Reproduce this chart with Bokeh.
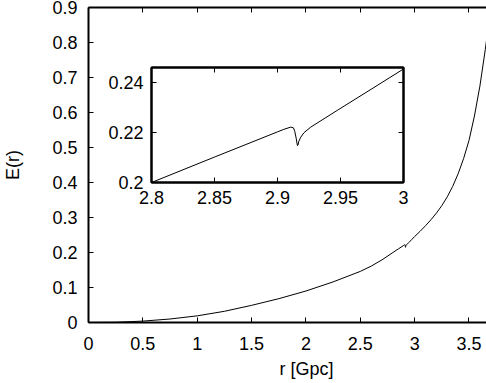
from bokeh.plotting import figure
from bokeh.models import Range1d, LinearAxis, FixedTicker, Title, GridBox
from bokeh.embed import file_html
from bokeh.resources import INLINE

# E(r)
r = [0.0, 0.25, 0.5, 0.75, 1.0, 1.25, 1.5, 1.75, 2.0, 2.25, 2.5, 2.6, 2.7,
     2.8, 2.85, 2.9, 2.905, 2.9105, 2.9127, 2.9137, 2.9148, 2.9158, 2.9163,
     2.9169, 2.9185, 2.9211, 2.9264, 2.9477, 2.975, 3.0, 3.05, 3.1, 3.15, 3.2,
     3.25, 3.3, 3.35, 3.4, 3.45, 3.5, 3.55, 3.6, 3.65, 3.7]
E = [0.0, 0.0005, 0.004, 0.010, 0.019, 0.032, 0.049, 0.068, 0.090, 0.116, 0.146, 0.161, 0.179,
     0.2, 0.2102, 0.2203, 0.2213, 0.2222, 0.2219, 0.2205, 0.2178, 0.2148, 0.2150,
     0.2165, 0.2182, 0.2200, 0.2222, 0.2290, 0.2376, 0.2455, 0.2605, 0.2765, 0.2935, 0.3125,
     0.334, 0.359, 0.389, 0.425, 0.468, 0.52, 0.59, 0.675, 0.78, 0.9]

main_xticks = [0, 0.5, 1, 1.5, 2, 2.5, 3, 3.5]
main_xlabels = ["0", "0.5", "1", "1.5", "2", "2.5", "3", "3.5"]
main_yticks = [0, 0.1, 0.2, 0.3, 0.4, 0.5, 0.6, 0.7, 0.8, 0.9]
main_ylabels = ["0", "0.1", "0.2", "0.3", "0.4", "0.5", "0.6", "0.7", "0.8", "0.9"]
inset_xticks = [2.8, 2.85, 2.9, 2.95, 3.0]
inset_xlabels = ["2.8", "2.85", "2.9", "2.95", "3"]
inset_yticks = [0.2, 0.22, 0.24]
inset_ylabels = ["0.2", "0.22", "0.24"]

FONT = "Liberation Sans"
FS = "18px"


def style_axis(ax, ticks, labels, standoff):
    ax.ticker = FixedTicker(ticks=ticks)
    ax.major_label_overrides = dict(zip(ticks, labels))
    ax.major_tick_in = 5
    ax.major_tick_out = 0
    ax.major_tick_line_width = 1
    ax.minor_tick_line_color = None
    ax.axis_line_width = 2
    ax.major_label_text_font = FONT
    ax.major_label_text_font_size = FS
    ax.major_label_text_color = "black"
    ax.major_label_standoff = standoff


def mirror_axis(ticks):
    ax = LinearAxis(ticker=FixedTicker(ticks=ticks))
    ax.major_tick_in = 5
    ax.major_tick_out = 0
    ax.major_tick_line_width = 1
    ax.minor_tick_line_color = None
    ax.axis_line_width = 2
    ax.major_label_text_color = None
    ax.major_label_standoff = 0
    return ax


main = figure(width=486, height=383, output_backend="svg", toolbar_location=None,
              x_range=Range1d(0, 3.661), y_range=Range1d(0, 0.9),
              min_border_left=88, min_border_right=0, min_border_top=7,
              min_border_bottom=61)
main.outline_line_color = None
main.grid.visible = False
main.background_fill_color = "white"
main.border_fill_color = "white"
style_axis(main.xaxis[0], main_xticks, main_xlabels, 14)
style_axis(main.yaxis[0], main_yticks, main_ylabels, 11)
main.yaxis[0].axis_label = "E(r)"
main.yaxis[0].axis_label_text_font = FONT
main.yaxis[0].axis_label_text_font_size = FS
main.yaxis[0].axis_label_text_font_style = "normal"
main.yaxis[0].axis_label_text_color = "black"
main.yaxis[0].axis_label_standoff = 26
main.add_layout(mirror_axis(main_xticks), "above")
main.line(r, E, line_color="black", line_width=1)
main.add_layout(Title(text="r  [Gpc]", text_font=FONT, text_font_size=FS,
                      text_font_style="normal", align="left", offset=191,
                      standoff=9, text_color="black"), "below")

inset = figure(width=320, height=150, output_backend="svg", toolbar_location=None,
               x_range=Range1d(2.8, 3.0), y_range=Range1d(0.2, 0.2461),
               min_border_left=56, min_border_right=12, min_border_top=7,
               min_border_bottom=28)
inset.outline_line_color = "black"
inset.outline_line_width = 2
inset.grid.visible = False
inset.background_fill_color = "white"
inset.border_fill_color = None
style_axis(inset.xaxis[0], inset_xticks, inset_xlabels, 8)
style_axis(inset.yaxis[0], inset_yticks, inset_ylabels, 8)
inset.add_layout(mirror_axis(inset_xticks), "above")
inset.add_layout(mirror_axis(inset_yticks), "right")
inset.line(r, E, line_color="black", line_width=1)

p = GridBox(children=[(main, 0, 0, 3, 3), (inset, 1, 1, 1, 1)],
            rows=["60px", "150px", "173px"], cols=["95px", "320px", "71px"],
            spacing=0)

open("out.html", "w").write(file_html(p, INLINE))
